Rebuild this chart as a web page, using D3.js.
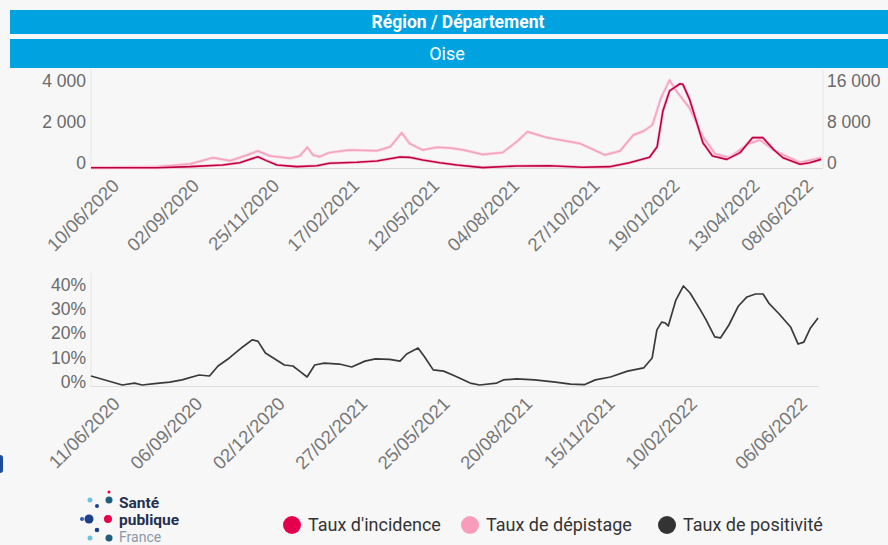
<!DOCTYPE html>
<html lang="fr">
<head>
<meta charset="utf-8">
<script src="https://cdn.jsdelivr.net/npm/d3@7"></script>
<style>
  html, body { margin: 0; padding: 0; background: #f7f7f7; }
  svg { display: block; font-family: Roboto, "Noto Sans", sans-serif; }
</style>
</head>
<body>
<svg id="chart"></svg>
<script>
// taux d'incidence (pour 100 000 hab.), axe de gauche
const incidenceDates = ["2020-05-15","2020-07-23","2020-08-27","2020-09-30","2020-10-18","2020-11-06","2020-11-15","2020-11-26","2020-12-17","2021-01-07","2021-01-20","2021-02-18","2021-03-11","2021-04-04","2021-04-14","2021-04-28","2021-05-16","2021-06-03","2021-06-30","2021-08-05","2021-09-08","2021-10-13","2021-11-10","2021-12-01","2021-12-22","2021-12-30","2022-01-05","2022-01-12","2022-01-23","2022-01-26","2022-02-02","2022-02-09","2022-02-16","2022-02-26","2022-03-13","2022-03-27","2022-04-09","2022-04-20","2022-05-01","2022-05-11","2022-05-29","2022-06-08","2022-06-20"];
const incidenceValues = [10,15,65,150,260,550,360,150,65,110,230,280,340,540,520,390,260,150,20,100,110,35,65,260,520,1040,2780,3760,4110,4080,3350,2290,1230,590,420,750,1480,1480,910,500,180,260,420];

// taux de dépistage (pour 100 000 hab.), axe de droite
const depistageDates = ["2020-05-15","2020-07-23","2020-08-27","2020-09-20","2020-10-08","2020-10-26","2020-11-06","2020-11-19","2020-12-10","2020-12-20","2020-12-28","2021-01-03","2021-01-10","2021-01-20","2021-02-10","2021-03-11","2021-03-25","2021-04-06","2021-04-14","2021-04-28","2021-05-13","2021-05-27","2021-06-10","2021-06-30","2021-07-21","2021-08-05","2021-08-16","2021-09-05","2021-10-10","2021-11-05","2021-11-21","2021-12-05","2021-12-16","2021-12-25","2022-01-03","2022-01-12","2022-01-20","2022-02-02","2022-02-16","2022-03-01","2022-03-16","2022-04-04","2022-04-17","2022-05-01","2022-05-29","2022-06-20"];
const depistageValues = [60,250,780,2010,1420,2540,3320,2340,1890,2340,4040,2540,2200,2990,3510,3370,4150,6880,4820,3510,4040,3900,3510,2630,3020,5170,7080,5950,4780,2540,3320,6440,7220,8390,13650,17160,14820,11700,6100,2730,2050,4680,5460,3510,1070,1990];

// taux de positivité (%)
const positiviteDates = ["2020-05-15","2020-06-17","2020-06-30","2020-07-08","2020-07-21","2020-08-06","2020-08-19","2020-09-06","2020-09-17","2020-09-26","2020-10-08","2020-10-22","2020-11-01","2020-11-07","2020-11-15","2020-11-25","2020-12-05","2020-12-14","2020-12-21","2020-12-29","2021-01-06","2021-01-16","2021-02-01","2021-02-14","2021-02-28","2021-03-11","2021-03-26","2021-04-06","2021-04-13","2021-04-25","2021-05-02","2021-05-11","2021-05-22","2021-06-03","2021-06-19","2021-06-29","2021-07-17","2021-07-24","2021-08-07","2021-08-26","2021-09-17","2021-10-03","2021-10-18","2021-10-29","2021-11-14","2021-12-02","2021-12-19","2021-12-28","2022-01-02","2022-01-07","2022-01-11","2022-01-14","2022-01-22","2022-01-30","2022-02-06","2022-02-17","2022-02-23","2022-03-04","2022-03-10","2022-03-19","2022-03-29","2022-04-07","2022-04-16","2022-04-24","2022-04-30","2022-05-11","2022-05-23","2022-05-31","2022-06-06","2022-06-13","2022-06-21"];
const positiviteValues = [4.1,0.4,1.2,0.4,1.0,1.6,2.5,4.5,4.1,8.2,11.5,16.0,18.9,18.4,13.5,11.1,8.6,8.2,6.1,3.7,8.6,9.4,9.0,7.8,10.2,11.1,10.9,10.2,13.1,15.6,11.9,6.6,6.1,4.1,1.2,0.4,1.2,2.5,2.9,2.5,1.6,0.8,0.6,2.5,3.7,6.1,7.4,11.5,23.0,26.2,25.8,24.6,35.2,41.0,38.1,31.1,27.0,20.1,19.7,25.0,32.8,36.5,37.7,37.7,34.0,29.5,24.2,17.2,18.0,23.8,27.9];

const topTicks = ["2020-06-10","2020-09-02","2020-11-25","2021-02-17","2021-05-12","2021-08-04","2021-10-27","2022-01-19","2022-04-13","2022-06-08"];
const bottomTicks = ["2020-06-11","2020-09-06","2020-12-02","2021-02-27","2021-05-25","2021-08-20","2021-11-15","2022-02-10","2022-06-06"];
const incidenceTicks = [0, 2000, 4000];
const depistageTicks = [0, 8000, 16000];
const positiviteTicks = [0, 10, 20, 30, 40];

const legendLabels = ["Taux d'incidence", "Taux de dépistage", "Taux de positivité"];
const legendColors = ["#e5004f", "#f79dbb", "#333333"];

const width = 888;
const height = 545;
const parse = d3.utcParse("%Y-%m-%d");
const fmtDate = d3.utcFormat("%d/%m/%Y");
const fr = d3.formatLocale({ decimal: ",", thousands: " ", grouping: [3], currency: ["", " €"] });
const fmtNum = fr.format(",");

const svg = d3.select("#chart").attr("width", width).attr("height", height);
svg.append("rect").attr("width", width).attr("height", height).attr("fill", "#f7f7f7");

// bandeaux
svg.append("rect").attr("x", 10).attr("y", 10).attr("width", 890).attr("height", 24).attr("fill", "#00a3e0");
svg.append("rect").attr("x", 10).attr("y", 39).attr("width", 890).attr("height", 29).attr("fill", "#00a3e0");
svg.append("text")
  .attr("x", 458).attr("y", 28)
  .attr("text-anchor", "middle")
  .attr("fill", "white").attr("font-size", 17.5).attr("font-weight", "bold")
  .text("Région / Département");
svg.append("text")
  .attr("x", 447).attr("y", 60)
  .attr("text-anchor", "middle")
  .attr("fill", "white").attr("font-size", 18)
  .text("Oise");

const xDomain = [parse("2020-05-15"), parse("2022-06-22")];
const xTop = d3.scaleUtc().domain(xDomain).range([91, 823]);
const xBot = d3.scaleUtc().domain(xDomain).range([91, 819]);
const yInc = d3.scaleLinear().domain([0, 4000]).range([168, 86]);
const yDep = d3.scaleLinear().domain([0, 16000]).range([168, 86]);
const yPos = d3.scaleLinear().domain([0, 40]).range([386, 288.4]);

function styleAxis(g) {
  g.select(".domain").remove();
  g.selectAll("text").attr("fill", "#6a6a6a").attr("font-size", 17.5);
}

// cadres
svg.append("line").attr("x1", 91).attr("x2", 91).attr("y1", 70).attr("y2", 168).attr("stroke", "#e6e6e6");
svg.append("line").attr("x1", 823).attr("x2", 823).attr("y1", 70).attr("y2", 168).attr("stroke", "#e6e6e6");
svg.append("line").attr("x1", 91).attr("x2", 823).attr("y1", 168.5).attr("y2", 168.5).attr("stroke", "#d8d8d8");
svg.append("line").attr("x1", 91).attr("x2", 91).attr("y1", 273).attr("y2", 386).attr("stroke", "#e6e6e6");
svg.append("line").attr("x1", 91).attr("x2", 819).attr("y1", 386.5).attr("y2", 386.5).attr("stroke", "#dcdcdc");

// axes graphique du haut
svg.append("g").attr("transform", "translate(91,0)")
  .call(d3.axisLeft(yInc).tickValues(incidenceTicks).tickSize(0).tickPadding(5).tickFormat(fmtNum))
  .call(styleAxis)
  .selectAll("text").attr("y", -5);
svg.append("g").attr("transform", "translate(823,0)")
  .call(d3.axisRight(yDep).tickValues(depistageTicks).tickSize(0).tickPadding(4).tickFormat(fmtNum))
  .call(styleAxis)
  .selectAll("text").attr("y", -5);
svg.append("g").attr("transform", "translate(0,168)")
  .call(d3.axisBottom(xTop).tickValues(topTicks.map(parse)).tickSize(0).tickFormat(fmtDate))
  .call(styleAxis)
  .selectAll("text")
  .attr("x", 0).attr("y", 0).attr("dy", 0)
  .attr("fill", "#777").attr("font-size", 18.5)
  .attr("text-anchor", "end")
  .attr("transform", "translate(4,19) rotate(-45)");

// axes graphique du bas
svg.append("g").attr("transform", "translate(91,0)")
  .call(d3.axisLeft(yPos).tickValues(positiviteTicks).tickSize(0).tickPadding(5).tickFormat(d => d + "%"))
  .call(styleAxis)
  .selectAll("text").attr("y", -4);
svg.append("g").attr("transform", "translate(0,386)")
  .call(d3.axisBottom(xBot).tickValues(bottomTicks.map(parse)).tickSize(0).tickFormat(fmtDate))
  .call(styleAxis)
  .selectAll("text")
  .attr("x", 0).attr("y", 0).attr("dy", 0)
  .attr("fill", "#777").attr("font-size", 18.5)
  .attr("text-anchor", "end")
  .attr("transform", "translate(4,19) rotate(-45)");

// courbes
const depLine = d3.line().x((d, i) => xTop(parse(depistageDates[i]))).y(d => yDep(d));
const incLine = d3.line().x((d, i) => xTop(parse(incidenceDates[i]))).y(d => yInc(d));
const posLine = d3.line().x((d, i) => xBot(parse(positiviteDates[i]))).y(d => yPos(d));

svg.append("path").datum(depistageValues).attr("d", depLine)
  .attr("fill", "none").attr("stroke", "#fbd3e1").attr("stroke-width", 3).attr("stroke-linejoin", "round");
svg.append("path").datum(depistageValues).attr("d", depLine)
  .attr("fill", "none").attr("stroke", "#f3a2bf").attr("stroke-width", 1.4).attr("stroke-linejoin", "round");
svg.append("path").datum(incidenceValues).attr("d", incLine)
  .attr("fill", "none").attr("stroke", "#f8c0d3").attr("stroke-width", 3).attr("stroke-linejoin", "round");
svg.append("path").datum(incidenceValues).attr("d", incLine)
  .attr("fill", "none").attr("stroke", "#c0003e").attr("stroke-width", 1.6).attr("stroke-linejoin", "round");
svg.append("path").datum(positiviteValues).attr("d", posLine)
  .attr("fill", "none").attr("stroke", "#3a3a3a").attr("stroke-width", 1.7).attr("stroke-linejoin", "round");

// légende
const legendX = [292, 470, 667];
const legend = svg.append("g").selectAll("g")
  .data(legendLabels)
  .join("g")
  .attr("transform", (d, i) => `translate(${legendX[i]},525)`);
legend.append("circle").attr("r", 9).attr("fill", (d, i) => legendColors[i]);
legend.append("text")
  .attr("x", 16).attr("dy", "0.35em")
  .attr("fill", "#333").attr("font-size", 18)
  .text(d => d);

// logo Santé publique France
const logo = svg.append("g");
const logoDots = [
  [82, 519, 2, "#2b59b5"], [89, 519, 4.5, "#1e3f8a"], [90, 500, 2.5, "#6cc4dd"],
  [97, 506, 2, "#1e3f8a"], [97, 530, 2.3, "#1e3f8a"], [90, 538, 2.5, "#6cc4dd"],
  [109, 492, 1.5, "#e5004f"], [109, 500, 3.5, "#1f5f7a"], [108, 519, 4, "#e5004f"],
  [109, 538, 3.5, "#1f5f7a"]
];
logo.selectAll("circle").data(logoDots).join("circle")
  .attr("cx", d => d[0]).attr("cy", d => d[1]).attr("r", d => d[2]).attr("fill", d => d[3]);
logo.append("text").attr("x", 119).attr("y", 508).attr("font-size", 15.5).attr("font-weight", "bold").attr("fill", "#25304f").text("Santé");
logo.append("text").attr("x", 119).attr("y", 525).attr("font-size", 15.5).attr("font-weight", "bold").attr("fill", "#25304f").text("publique");
logo.append("text").attr("x", 119).attr("y", 542).attr("font-size", 14).attr("fill", "#8a97a8").text("France");

svg.append("rect").attr("x", -3).attr("y", 455).attr("width", 6).attr("height", 18).attr("rx", 3).attr("fill", "#1a4d9e");
</script>
</body>
</html>
